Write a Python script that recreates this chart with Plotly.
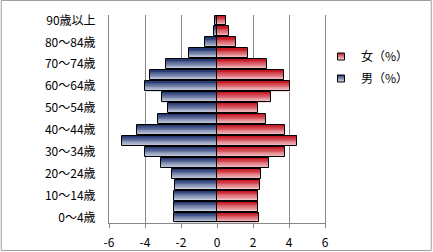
import plotly.graph_objects as go

# ---- data ----
categories = ['0～4歳', '5～9歳', '10～14歳', '15～19歳', '20～24歳', '25～29歳',
              '30～34歳', '35～39歳', '40～44歳', '45～49歳', '50～54歳', '55～59歳',
              '60～64歳', '65～69歳', '70～74歳', '75～79歳', '80～84歳', '85～89歳',
              '90歳以上']
male = [-2.40, -2.40, -2.40, -2.34, -2.49, -3.12, -4.00, -5.27, -4.43, -3.27,
        -2.70, -3.05, -4.00, -3.75, -2.82, -1.57, -0.67, -0.18, -0.10]
female = [2.32, 2.27, 2.27, 2.38, 2.43, 2.88, 3.77, 4.45, 3.77, 2.73,
          2.27, 3.01, 4.05, 3.71, 2.79, 1.73, 1.05, 0.66, 0.51]
tick_labels = categories[::2]
x_ticks = [-6, -4, -2, 0, 2, 4, 6]
x_tick_text = ['-6', '-4', '-2', '0', '2', '4', '6']
series_names = ['女（%）', '男（%）']

# ---- style ----
W, H = 433, 252
L, R, T, B = 108.5, 108, 15, 29
PW, PH = W - L - R, H - T - B
FONT = 'Noto Sans CJK JP'
GRID = '#868686'
N = 12
BAR_W = 0.9

def lerp(c1, c2, t):
    return 'rgb(%d,%d,%d)' % tuple(round(a + (b - a) * t) for a, b in zip(c1, c2))

blue_dark, blue_light = (32, 52, 110), (224, 229, 242)
red_dark, red_light = (196, 18, 30), (250, 222, 226)

fig = go.Figure()

def add_gradient_bars(values, dark, light):
    for i in range(N):
        # i = 0 bottom slice (light) ... N-1 top slice (dark)
        t = 1 - (i + 0.5) / N
        fig.add_trace(go.Bar(
            y=categories, x=values, orientation='h',
            width=BAR_W / N, offset=-BAR_W / 2 + i * BAR_W / N,
            marker=dict(color=lerp(dark, light, t), line=dict(width=0)),
            showlegend=False, hoverinfo='skip'))
    fig.add_trace(go.Bar(
        y=categories, x=values, orientation='h',
        width=BAR_W, offset=-BAR_W / 2,
        marker=dict(color='rgba(0,0,0,0)', line=dict(color='black', width=1)),
        showlegend=False, hoverinfo='skip'))

add_gradient_bars(male, blue_dark, blue_light)
add_gradient_bars(female, red_dark, red_light)

# legend entries
for name, dark, light in [(series_names[0], red_dark, red_light),
                          (series_names[1], blue_dark, blue_light)]:
    fig.add_trace(go.Scatter(
        x=[None], y=[None], mode='markers', name=name, legendgroup=name,
        marker=dict(symbol='square', size=7, color='rgb(%d,%d,%d)' % dark,
                    gradient=dict(type='vertical', color='rgb(%d,%d,%d)' % light),
                    line=dict(color='black', width=1))))

def px_x(px):
    return (px - L) / PW

def px_y(py):
    return (T + PH - py) / PH

fig.update_layout(
    width=W, height=H,
    margin=dict(l=L, r=R, t=T, b=B, pad=0, autoexpand=False),
    barmode='overlay', bargap=0,
    plot_bgcolor='white', paper_bgcolor='white',
    font=dict(family=FONT, size=11, color='black'),
    legend=dict(x=px_x(321), y=px_y(42), xanchor='left', yanchor='top',
                traceorder='grouped', tracegroupgap=3,
                font=dict(family=FONT, size=12, color='black'),
                bgcolor='rgba(0,0,0,0)'),
    xaxis=dict(range=[-6, 6], tickvals=x_ticks, ticktext=x_tick_text,
               showgrid=True, gridcolor=GRID, automargin=False,
               gridwidth=1, zeroline=True, zerolinecolor='#6e6e6e', zerolinewidth=1,
               showline=True, linecolor=GRID, linewidth=1,
               ticks='outside', ticklen=4, tickcolor=GRID,
               ticklabelstandoff=5,
               tickfont=dict(size=12), fixedrange=True),
    yaxis=dict(type='category', categoryorder='array', categoryarray=categories,
               range=[-0.5, len(categories) - 0.5], automargin=False,
               tickvals=tick_labels, ticktext=tick_labels,
               showgrid=False, zeroline=False, ticks='',
               showline=True, mirror=True, linecolor=GRID, linewidth=1,
               ticklabelstandoff=10, tickfont=dict(size=12), fixedrange=True),
    shapes=[dict(type='rect', xref='paper', yref='paper',
                 x0=px_x(0.5), x1=px_x(W - 1.5), y0=px_y(0.5), y1=px_y(H - 1.5),
                 line=dict(color='#a0a0a0', width=1), layer='above')],
)

fig.write_html('out.html')
